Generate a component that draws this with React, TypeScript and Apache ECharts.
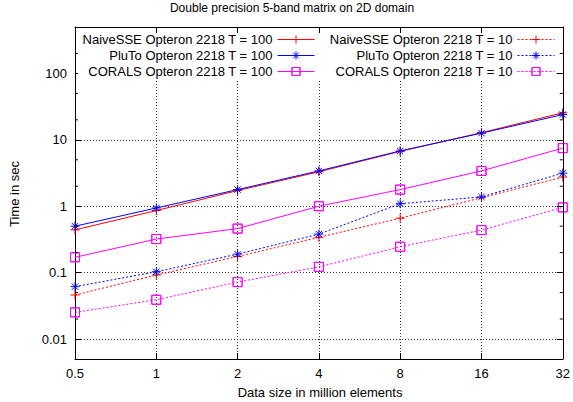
import React, { useEffect, useRef } from 'react';
import * as echarts from 'echarts';

const FONT = "'Liberation Sans', Arial, Helvetica, sans-serif";

const titleText = 'Double precision 5-band matrix on 2D domain';
const xAxisTitle = 'Data size in million elements';
const yAxisTitle = 'Time in sec';

const dataSizes = [0.5, 1, 2, 4, 8, 16, 32];
const xTickLabels = ['0.5', '1', '2', '4', '8', '16', '32'];
const yTickLabels = ['0.01', '0.1', '1', '10', '100'];
const minorTickValues = [0.02, 0.05, 0.2, 0.5, 2, 5, 20, 50, 200];

const naive100 = [0.44, 0.86, 1.72, 3.3, 6.7, 12.8, 25.5];
const pluto100 = [0.5, 0.94, 1.78, 3.4, 6.8, 12.6, 24];
const corals100 = [0.17, 0.32, 0.46, 1.0, 1.78, 3.4, 7.5];
const naive10 = [0.046, 0.092, 0.175, 0.34, 0.66, 1.34, 2.75];
const pluto10 = [0.0615, 0.103, 0.19, 0.38, 1.09, 1.38, 3.15];
const corals10 = [0.0252, 0.039, 0.072, 0.122, 0.245, 0.437, 0.96];

const PLUS = 'path://M0,5L10,5M5,0L5,10';
const STAR = 'path://M0,5L10,5M5,0L5,10M1.5,1.5L8.5,8.5M1.5,8.5L8.5,1.5';
const SQUARE = 'path://M0,0L10,0L10,10L0,10ZM0,0L0,10L10,10L10,0Z';

const seriesDefs = [
  { name: 'NaiveSSE Opteron 2218 T = 100', values: naive100, color: '#ff0000', symbol: PLUS, dotted: false },
  { name: 'PluTo Opteron 2218 T = 100', values: pluto100, color: '#0000ff', symbol: STAR, dotted: false },
  { name: 'CORALS Opteron 2218 T = 100', values: corals100, color: '#ff00ff', symbol: SQUARE, dotted: false },
  { name: 'NaiveSSE Opteron 2218 T = 10', values: naive10, color: '#ff0000', symbol: PLUS, dotted: true },
  { name: 'PluTo Opteron 2218 T = 10', values: pluto10, color: '#0000ff', symbol: STAR, dotted: true },
  { name: 'CORALS Opteron 2218 T = 10', values: corals10, color: '#ff00ff', symbol: SQUARE, dotted: true },
];

function isPow(v: number, base: number) {
  const e = Math.log(v) / Math.log(base);
  return Math.abs(e - Math.round(e)) < 1e-6 ? Math.round(e) : null;
}

export default function App() {
  const ref = useRef<HTMLDivElement>(null);
  useEffect(() => {
    document.body.style.margin = '0';
    if (!ref.current) return;
    const chart = echarts.init(ref.current, undefined, { renderer: 'svg' });

    const gridLine = { show: true, lineStyle: { color: '#333', type: [1, 2], width: 1 } };
    const tick = { show: true, inside: true, length: 6, lineStyle: { color: '#000', width: 1 } };
    const axisLine = { show: true, lineStyle: { color: '#000', width: 1 } };

    const xBase: any = { type: 'log', logBase: 2, min: 0.5, max: 32, axisLine, axisTick: tick };
    const yBase: any = { type: 'log', logBase: 10, min: 0.005, max: 500, axisLine, axisTick: tick };

    const legendCommon: any = {
      orient: 'vertical',
      align: 'right',
      top: 28,
      itemWidth: 37,
      itemHeight: 10,
      itemGap: 3,
      z: 10,
      backgroundColor: '#ffffff',
      itemStyle: { borderWidth: 1 },
      lineStyle: { width: 1 },
      textStyle: { fontSize: 13, color: '#000', fontFamily: FONT },
      selectedMode: false,
    };

    const option: any = {
      animation: false,
      grid: { left: 75, right: 7, top: 27, bottom: 43, containLabel: false },
      xAxis: [
        {
          ...xBase,
          position: 'bottom',
          splitLine: gridLine,
          axisLabel: {
            margin: 8,
            fontSize: 13,
            color: '#000',
            fontFamily: FONT,
            formatter: (v: number) => {
              const e = isPow(v, 2);
              return e === null ? '' : xTickLabels[e + 1] ?? '';
            },
          },
        },
        { ...xBase, position: 'top', z: 30, splitLine: { show: false }, axisLabel: { show: false } },
      ],
      yAxis: [
        {
          ...yBase,
          position: 'left',
          splitLine: gridLine,
          axisLabel: {
            margin: 8,
            fontSize: 13,
            color: '#000',
            fontFamily: FONT,
            formatter: (v: number) => {
              const e = isPow(v, 10);
              return e === null ? '' : yTickLabels[e + 2] ?? '';
            },
          },
        },
        { ...yBase, position: 'right', z: 30, splitLine: { show: false }, axisLabel: { show: false } },
      ],
      legend: [
        { ...legendCommon, right: 246, padding: [5, 12, 2, 4], data: seriesDefs.slice(0, 3).map((s) => s.name) },
        { ...legendCommon, right: 9, padding: [5, 9, 2, 4], data: seriesDefs.slice(3).map((s) => s.name) },
      ],
      graphic: [
        {
          type: 'text',
          x: 292,
          y: 8,
          style: { text: titleText, font: `12px ${FONT}`, fill: '#000', align: 'center', verticalAlign: 'middle' },
        },
        {
          type: 'text',
          x: 320,
          y: 392,
          style: { text: xAxisTitle, font: `13px ${FONT}`, fill: '#000', align: 'center', verticalAlign: 'middle' },
        },
        {
          type: 'text',
          x: 14.5,
          y: 194,
          rotation: Math.PI / 2,
          style: { text: yAxisTitle, font: `13px ${FONT}`, fill: '#000', align: 'center', verticalAlign: 'middle' },
        },
      ],
      series: [
        ...seriesDefs.map((s) => ({
          type: 'line',
          name: s.name,
          xAxisIndex: 0,
          yAxisIndex: 0,
          data: dataSizes.map((x, i) => [x, s.values[i]]),
          color: s.color,
          symbol: s.symbol,
          symbolSize: 9,
          showAllSymbol: true,
          lineStyle: { color: s.color, width: 1, type: s.dotted ? [2, 2] : 'solid' },
          itemStyle: { color: s.color, borderColor: s.color, borderWidth: 1 },
          z: 4,
        })),
        {
          type: 'custom',
          name: 'minorTicks',
          silent: true,
          xAxisIndex: 0,
          yAxisIndex: 0,
          data: minorTickValues.map((v) => [0.5, v]),
          renderItem: (params: any, api: any) => {
            const v = api.value(1);
            const l = api.coord([0.5, v]);
            const r = api.coord([32, v]);
            return {
              type: 'group',
              children: [
                { type: 'line', shape: { x1: l[0], y1: l[1], x2: l[0] + 3, y2: l[1] }, style: { stroke: '#000', lineWidth: 1 } },
                { type: 'line', shape: { x1: r[0] - 3, y1: r[1], x2: r[0], y2: r[1] }, style: { stroke: '#000', lineWidth: 1 } },
              ],
            };
          },
          z: 30,
        },
      ],
    };
    chart.setOption(option);
    return () => chart.dispose();
  }, []);
  return <div ref={ref} style={{ width: 573, height: 402 }} />;
}
